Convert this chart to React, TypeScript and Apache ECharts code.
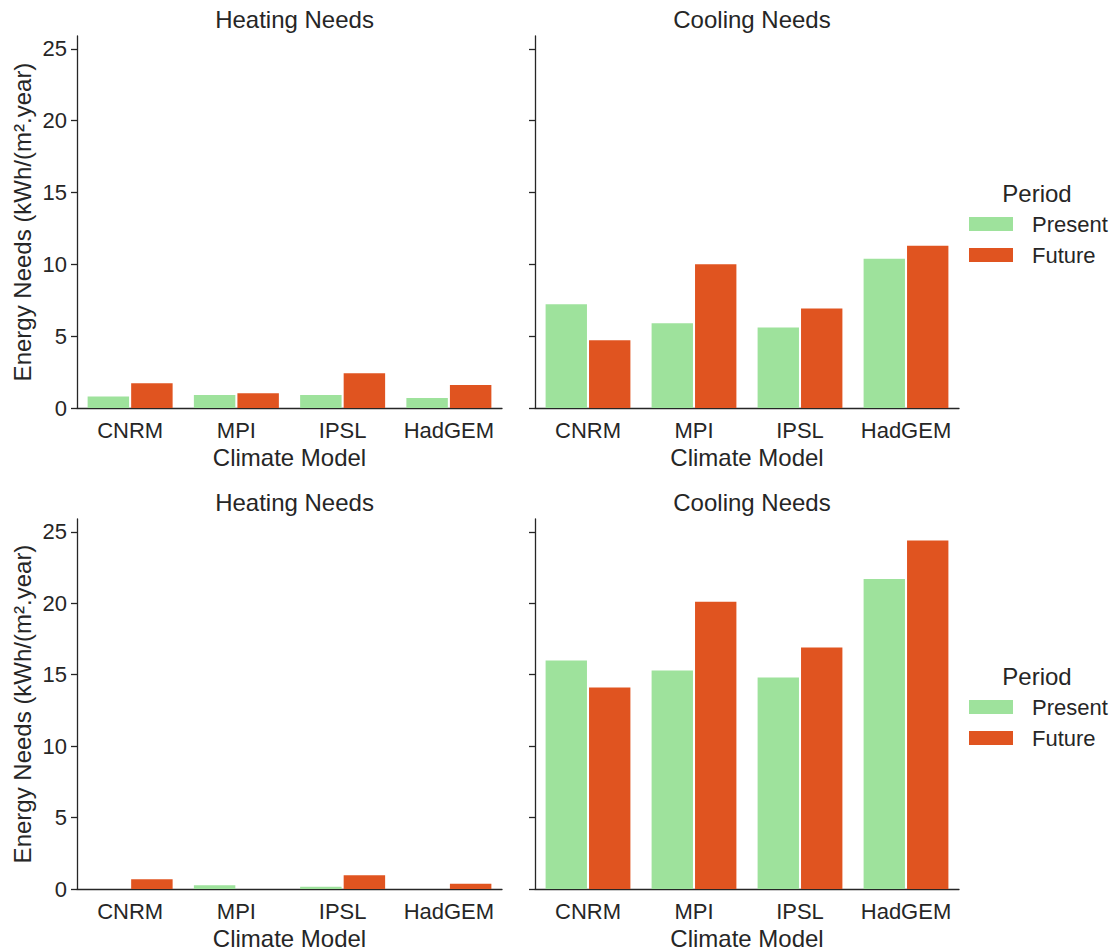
import React, { useEffect, useRef } from "react";
import * as echarts from "echarts";

const categories = ["CNRM", "MPI", "IPSL", "HadGEM"];
const periods = ["Present", "Future"];
const yTicks = [0, 5, 10, 15, 20, 25];

// Top row
const heatingTopPresent = [0.8, 0.9, 0.9, 0.7];
const heatingTopFuture = [1.72, 1.02, 2.42, 1.6];
const coolingTopPresent = [7.22, 5.9, 5.6, 10.4];
const coolingTopFuture = [4.71, 10.0, 6.92, 11.3];

// Bottom row
const heatingBottomPresent = [0, 0.26, 0.16, 0];
const heatingBottomFuture = [0.68, 0, 0.96, 0.37];
const coolingBottomPresent = [16.0, 15.3, 14.8, 21.7];
const coolingBottomFuture = [14.1, 20.1, 16.9, 24.4];

const panelTitles = ["Heating Needs", "Cooling Needs", "Heating Needs", "Cooling Needs"];

const GREEN = "#9ee29c";
const ORANGE = "#e05420";
const AXIS = "#262626";
const TEXT = "#262626";
const FONT = "Liberation Sans, Arial, sans-serif";

export default function App() {
  const ref = useRef<HTMLDivElement>(null);

  useEffect(() => {
    if (!ref.current) return;
    const chart = echarts.init(ref.current, undefined, { renderer: "svg" });

    const grids = [
      { left: 77, width: 425, top: 36, height: 372 },
      { left: 535, width: 424, top: 36, height: 372 },
      { left: 77, width: 425, top: 519, height: 372 },
      { left: 535, width: 424, top: 519, height: 372 },
    ];
    const dataSets = [
      [heatingTopPresent, heatingTopFuture],
      [coolingTopPresent, coolingTopFuture],
      [heatingBottomPresent, heatingBottomFuture],
      [coolingBottomPresent, coolingBottomFuture],
    ];

    const xAxes = grids.map((_, i) => ({
      type: "category",
      gridIndex: i,
      data: categories,
      boundaryGap: true,
      name: "Climate Model",
      nameLocation: "middle",
      nameGap: 37,
      nameTextStyle: { fontSize: 24, color: TEXT, fontFamily: FONT },
      axisLine: { lineStyle: { color: AXIS, width: 1.3 } },
      axisTick: { alignWithLabel: true, interval: 0, length: 6, lineStyle: { color: AXIS, width: 1.3 } },
      axisLabel: { interval: 0, hideOverlap: false, fontSize: 22, color: TEXT, fontFamily: FONT, margin: 11 },
      splitLine: { show: false },
    }));

    const yAxes = grids.map((_, i) => {
      const isLeft = i % 2 === 0;
      return {
        type: "value",
        gridIndex: i,
        min: 0,
        max: 25.9,
        name: isLeft ? "Energy Needs (kWh/(m².year)" : "",
        nameLocation: "middle",
        nameGap: 43,
        nameTextStyle: { fontSize: 24, color: TEXT, fontFamily: FONT },
        axisLine: { show: true, lineStyle: { color: AXIS, width: 1.3 } },
        axisTick: {
          show: true,
          length: 6,
          customValues: yTicks,
          lineStyle: { color: AXIS, width: 1.3 },
        },
        axisLabel: {
          show: isLeft,
          customValues: yTicks,
          fontSize: 22,
          color: TEXT,
          fontFamily: FONT,
          margin: 10,
        },
        splitLine: { show: false },
      };
    });

    const series: any[] = [];
    dataSets.forEach((ds, i) => {
      ds.forEach((vals, j) => {
        series.push({
          type: "bar",
          name: periods[j],
          xAxisIndex: i,
          yAxisIndex: i,
          data: vals,
          barGap: "5%",
          barCategoryGap: "20%",
          itemStyle: {
            color: j === 0 ? GREEN : ORANGE,
            borderWidth: 0,
          },
        });
      });
    });

    const titles = grids.map((g, i) => ({
      text: panelTitles[i],
      left: g.left + g.width / 2,
      top: g.top - 34,
      textAlign: "center",
      textStyle: { fontSize: 24, fontWeight: "normal", color: TEXT, fontFamily: FONT },
    }));

    const legends = [208, 691].map((top) => ({
      data: periods,
      orient: "vertical",
      left: 964,
      top,
      itemWidth: 44,
      itemHeight: 14,
      itemGap: 9,
      icon: "rect",
      selectedMode: false,
      textStyle: { fontSize: 22, color: TEXT, fontFamily: FONT, padding: [0, 0, 0, 14] },
    }));

    const legendTitleYs = [193, 676];

    chart.setOption({
      animation: false,
      backgroundColor: "#ffffff",
      title: titles,
      grid: grids,
      xAxis: xAxes,
      yAxis: yAxes,
      legend: legends,
      series,
      graphic: legendTitleYs.map((y) => ({
        type: "text",
        x: 1037,
        y,
        style: {
          text: "Period",
          fontSize: 24,
          fill: TEXT,
          fontFamily: FONT,
          align: "center",
          verticalAlign: "middle",
        },
      })),
    });

    return () => chart.dispose();
  }, []);

  return (
    <div
      ref={ref}
      style={{ position: "fixed", left: 0, top: 0, width: 1110, height: 951, background: "#fff" }}
    />
  );
}
